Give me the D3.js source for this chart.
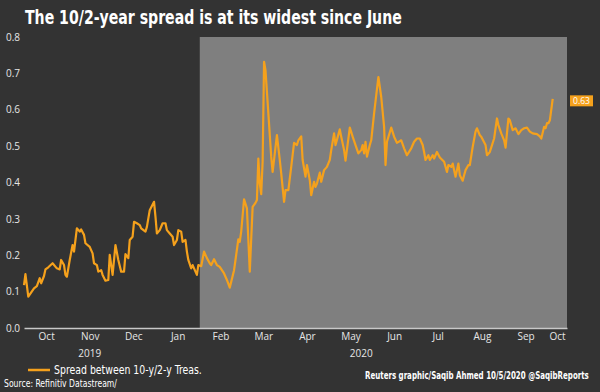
<!DOCTYPE html>
<html><head><meta charset="utf-8">
<script src="https://cdn.jsdelivr.net/npm/d3@7"></script>
<style>body{margin:0;background:#333333;}svg{display:block;}</style>
</head><body>
<script>
const title = "The 10/2-year spread is at its widest since June";
const legendLabel = "Spread between 10-y/2-y Treas.";
const sourceText = "Source: Refinitiv Datastream/";
const creditText = "Reuters graphic/Saqib Ahmed 10/5/2020 @SaqibReports";
const yTicks = [0, 0.1, 0.2, 0.3, 0.4, 0.5, 0.6, 0.7, 0.8];
const monthLabels = ["Oct","Nov","Dec","Jan","Feb","Mar","Apr","May","Jun","Jul","Aug","Sep","Oct"];
const yearLabels = ["2019","2020"];
const shadeStart = "2020-02-01";
const lastLabel = "0.63";

const dates = [
"2019-10-01","2019-10-02","2019-10-04","2019-10-08","2019-10-10","2019-10-12","2019-10-13","2019-10-15","2019-10-16","2019-10-18",
"2019-10-21","2019-10-24","2019-10-26","2019-10-27","2019-10-29","2019-10-30","2019-10-31","2019-11-02","2019-11-04","2019-11-05",
"2019-11-07","2019-11-09","2019-11-10","2019-11-12","2019-11-13","2019-11-16","2019-11-18","2019-11-19","2019-11-21","2019-11-22",
"2019-11-24","2019-11-25","2019-11-27","2019-11-29","2019-11-30","2019-12-02","2019-12-04","2019-12-06","2019-12-08","2019-12-10",
"2019-12-11","2019-12-13","2019-12-14","2019-12-16","2019-12-17","2019-12-19","2019-12-21","2019-12-22","2019-12-25","2019-12-26",
"2019-12-28","2019-12-31","2020-01-01","2020-01-02","2020-01-04","2020-01-06","2020-01-08","2020-01-09","2020-01-11","2020-01-13",
"2020-01-14","2020-01-16","2020-01-17","2020-01-19","2020-01-20","2020-01-22","2020-01-23","2020-01-24","2020-01-26","2020-01-27",
"2020-01-29","2020-01-30","2020-01-31","2020-02-02","2020-02-04","2020-02-06","2020-02-08","2020-02-09","2020-02-11","2020-02-13",
"2020-02-15","2020-02-18","2020-02-20","2020-02-22","2020-02-25","2020-02-26","2020-02-28","2020-02-29","2020-03-01","2020-03-03",
"2020-03-05","2020-03-07","2020-03-09","2020-03-11","2020-03-12","2020-03-13","2020-03-14","2020-03-15","2020-03-16","2020-03-17",
"2020-03-18","2020-03-20","2020-03-22","2020-03-23","2020-03-26","2020-03-28","2020-03-29","2020-03-31","2020-04-01","2020-04-03",
"2020-04-05","2020-04-07","2020-04-09","2020-04-10","2020-04-12","2020-04-13","2020-04-15","2020-04-16","2020-04-18","2020-04-19",
"2020-04-21","2020-04-22","2020-04-23","2020-04-25","2020-04-26","2020-04-28","2020-04-30","2020-05-02","2020-05-03","2020-05-05",
"2020-05-06","2020-05-09","2020-05-10","2020-05-12","2020-05-13","2020-05-16","2020-05-18","2020-05-20","2020-05-22","2020-05-24",
"2020-05-25","2020-05-26","2020-05-27","2020-05-28","2020-05-30","2020-05-31","2020-06-02","2020-06-05","2020-06-07","2020-06-09",
"2020-06-10","2020-06-11","2020-06-14","2020-06-16","2020-06-18","2020-06-21","2020-06-23","2020-06-25","2020-06-28","2020-06-30",
"2020-07-02","2020-07-04","2020-07-06","2020-07-07","2020-07-08","2020-07-10","2020-07-11","2020-07-13","2020-07-14","2020-07-16",
"2020-07-18","2020-07-21","2020-07-23","2020-07-24","2020-07-26","2020-07-27","2020-07-29","2020-07-30","2020-07-31","2020-08-01",
"2020-08-03","2020-08-04","2020-08-05","2020-08-07","2020-08-08","2020-08-10","2020-08-12","2020-08-13","2020-08-15","2020-08-16",
"2020-08-19","2020-08-20","2020-08-22","2020-08-25","2020-08-27","2020-08-28","2020-08-30","2020-09-01","2020-09-02","2020-09-04",
"2020-09-05","2020-09-07","2020-09-09","2020-09-11","2020-09-13","2020-09-15","2020-09-17","2020-09-19","2020-09-21","2020-09-24",
"2020-09-26","2020-09-27","2020-09-29","2020-09-30","2020-10-01","2020-10-02","2020-10-03","2020-10-05"
];
const spread = [
0.118,0.148,0.086,0.109,0.115,0.137,0.123,0.143,0.161,0.167,
0.178,0.164,0.161,0.187,0.173,0.146,0.141,0.187,0.228,0.210,
0.274,0.265,0.271,0.256,0.233,0.223,0.205,0.178,0.173,0.155,
0.159,0.146,0.130,0.132,0.201,0.146,0.228,0.187,0.155,0.155,
0.203,0.192,0.242,0.251,0.292,0.288,0.283,0.274,0.265,0.278,
0.324,0.347,0.306,0.260,0.269,0.288,0.288,0.269,0.260,0.251,
0.228,0.242,0.269,0.265,0.237,0.242,0.210,0.187,0.164,0.173,
0.155,0.146,0.173,0.170,0.210,0.192,0.178,0.173,0.189,0.173,
0.168,0.150,0.132,0.111,0.159,0.187,0.244,0.237,0.265,0.354,
0.329,0.155,0.333,0.344,0.352,0.466,0.397,0.368,0.457,0.732,
0.709,0.590,0.471,0.429,0.530,0.462,0.425,0.347,0.379,0.379,
0.443,0.509,0.503,0.516,0.527,0.462,0.416,0.448,0.407,0.365,
0.402,0.388,0.397,0.427,0.402,0.434,0.443,0.462,0.489,0.535,
0.503,0.546,0.526,0.489,0.460,0.551,0.526,0.503,0.480,0.489,
0.503,0.480,0.512,0.471,0.503,0.516,0.590,0.690,0.635,0.553,
0.448,0.512,0.551,0.526,0.509,0.516,0.494,0.475,0.494,0.512,
0.521,0.521,0.503,0.484,0.462,0.475,0.462,0.475,0.466,0.484,
0.469,0.457,0.429,0.448,0.443,0.452,0.416,0.434,0.452,0.420,
0.405,0.420,0.434,0.448,0.448,0.498,0.540,0.549,0.530,0.526,
0.503,0.475,0.484,0.521,0.576,0.558,0.535,0.516,0.496,0.576,
0.571,0.544,0.549,0.533,0.544,0.549,0.551,0.540,0.535,0.533,
0.527,0.521,0.553,0.549,0.563,0.563,0.571,0.630
];

const W = 600, H = 392;
const parse = d3.timeParse("%Y-%m-%d");
const data = dates.map((d, i) => ({date: parse(d), value: spread[i]}));

const domainStart = parse("2019-10-01"), domainEnd = parse("2020-10-15");
const x = d3.scaleTime().domain([domainStart, domainEnd]).range([24, 567]);
const y = d3.scaleLinear().domain([0, 0.8]).range([328, 37]);

const orange = "#f5a11c";
const svg = d3.select("body").append("svg").attr("width", W).attr("height", H);
svg.append("rect").attr("width", W).attr("height", H).attr("fill", "#333333");

// shaded region
svg.append("rect")
  .attr("x", x(parse(shadeStart))).attr("y", y(0.8))
  .attr("width", x(domainEnd) - x(parse(shadeStart)))
  .attr("height", y(0) - y(0.8))
  .attr("fill", "#7f7f7f");

const narrow = "'Liberation Sans Narrow','Arial Narrow','DejaVu Sans Condensed','Liberation Sans',Arial,sans-serif";
// text squeezed horizontally to a target width (condensed look)
function fitText(tx, ty, width, size, weight, str) {
  const g = svg.append("g");
  const t = g.append("text").attr("x", 0).attr("y", 0)
    .attr("font-family", narrow).attr("font-weight", weight)
    .attr("font-size", size).attr("fill", "#ffffff").text(str);
  const w = t.node().getComputedTextLength();
  const s = Math.min(1, width / w);
  g.attr("transform", `translate(${tx},${ty}) scale(${s},1)`);
  return g;
}

// title
fitText(25, 24, 377, 19, "bold", title);

const tickFont = "'Open Sans','Noto Sans',sans-serif";

// y axis
const yAxis = svg.append("g").attr("transform", "translate(20,0)")
  .call(d3.axisLeft(y).tickValues(yTicks).tickFormat(d3.format(".1f")).tickSize(0).tickPadding(0));
yAxis.select(".domain").remove();
yAxis.selectAll("text").attr("font-family", tickFont).attr("font-size", 10).attr("fill", "#e6e6e6");

// x axis: month labels centred in each month interval
const months = d3.timeMonth.range(domainStart, domainEnd);
const mids = months.map(m => {
  const a = Math.max(x(m), x(domainStart));
  const b = Math.min(x(d3.timeMonth.offset(m, 1)), x(domainEnd));
  return x.invert((a + b) / 2);
});
const xAxis = svg.append("g").attr("transform", "translate(0,328)")
  .call(d3.axisBottom(x).tickValues(mids).tickFormat((d, i) => monthLabels[i]).tickSize(0).tickPadding(5));
xAxis.select(".domain").attr("stroke", "#c8c8c8").attr("stroke-width", 1.5);
xAxis.selectAll("text").attr("font-family", tickFont).attr("font-size", 10).attr("fill", "#e6e6e6");

// year labels
const years = [
  [domainStart, parse("2020-01-01")],
  [parse("2020-01-01"), domainEnd]
];
svg.selectAll("text.year").data(years).enter().append("text")
  .attr("class", "year")
  .attr("x", d => (x(d[0]) + x(d[1])) / 2).attr("y", 357)
  .attr("text-anchor", "middle")
  .attr("font-family", tickFont).attr("font-size", 10).attr("fill", "#e6e6e6")
  .text((d, i) => yearLabels[i]);

// line
const line = d3.line().x(d => x(d.date)).y(d => y(d.value));
svg.append("path").datum(data)
  .attr("d", line).attr("fill", "none")
  .attr("stroke", orange).attr("stroke-width", 2.2).attr("stroke-linejoin", "round");

// last value label
const last = data[data.length - 1];
svg.append("rect").attr("x", 570).attr("y", y(last.value) - 3.5)
  .attr("width", 23).attr("height", 11).attr("fill", orange);
svg.append("text").attr("x", 581.5).attr("y", y(last.value) + 5.5)
  .attr("text-anchor", "middle")
  .attr("font-family", tickFont).attr("font-size", 8.5).attr("fill", "#ffffff")
  .text(lastLabel);

// legend
svg.append("line").attr("x1", 28).attr("x2", 50).attr("y1", 370).attr("y2", 370)
  .attr("stroke", orange).attr("stroke-width", 2.5);
fitText(54, 374, 148, 12, "normal", legendLabel);

// source and credit
fitText(4, 387, 113, 10, "normal", sourceText);
fitText(365, 379, 224, 10, "bold", creditText);
</script>
</body></html>
